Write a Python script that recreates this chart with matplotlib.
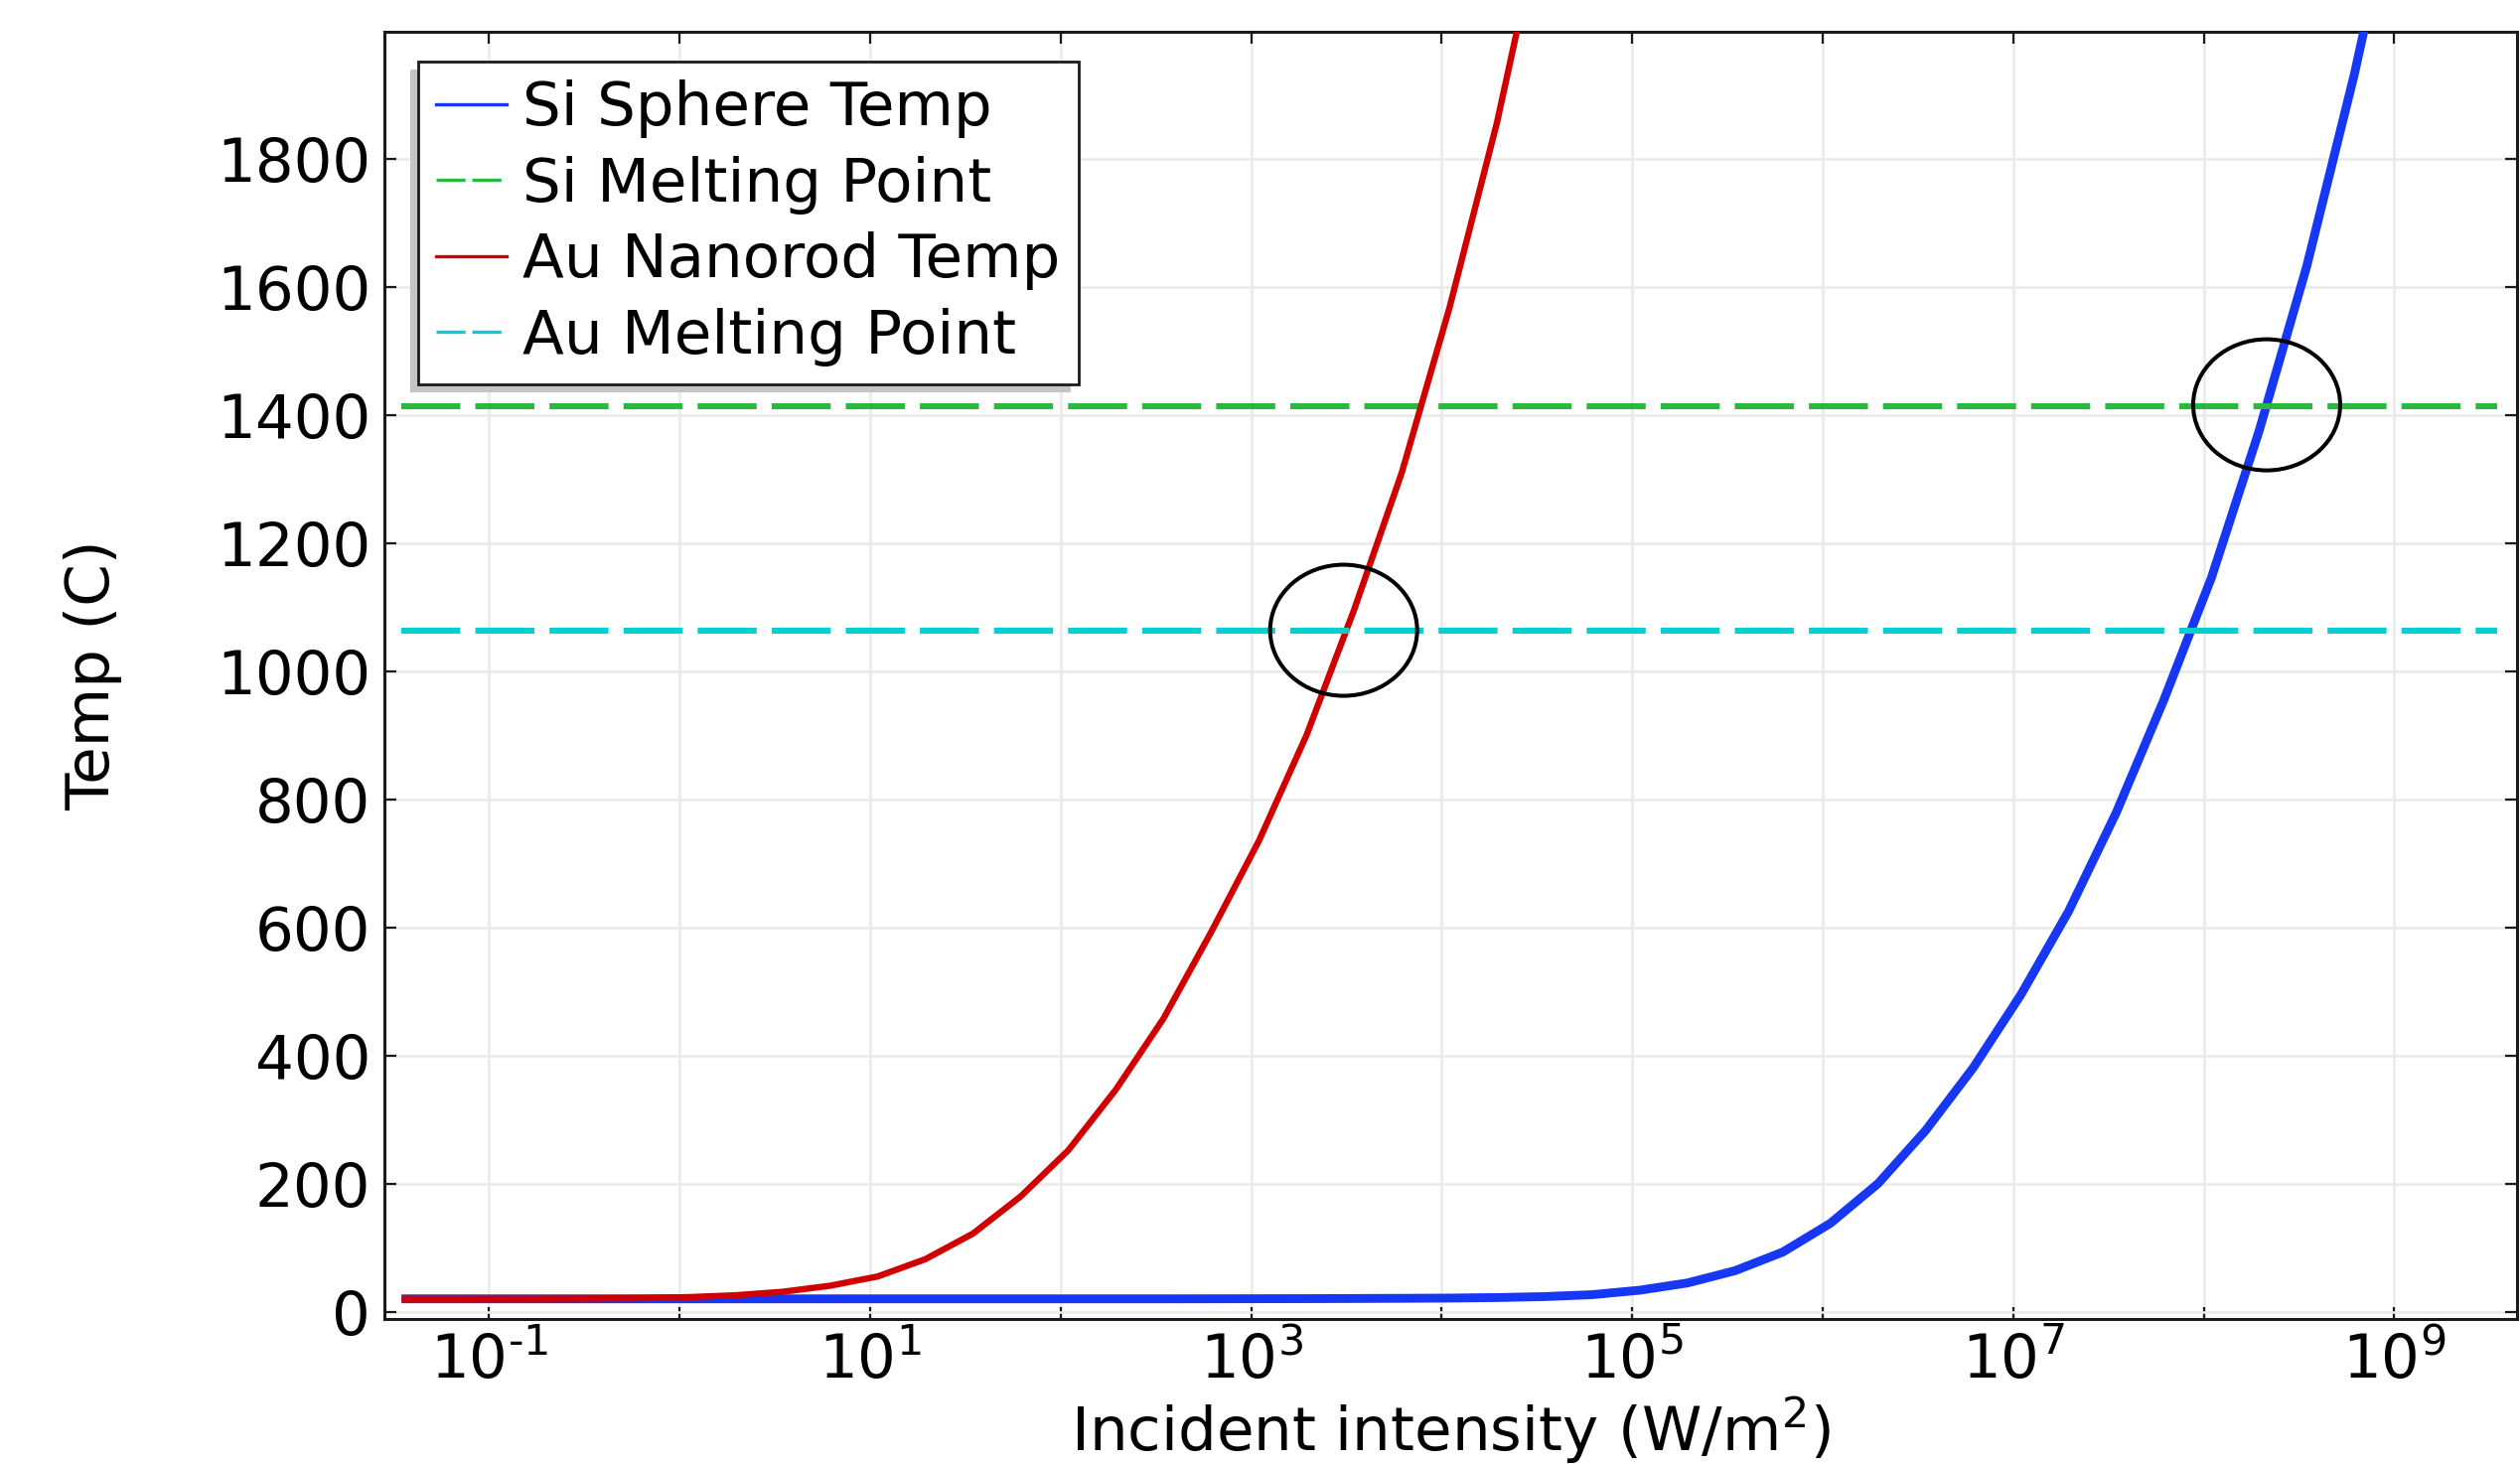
import numpy as np
import matplotlib
matplotlib.use("Agg")
import matplotlib.pyplot as plt
from matplotlib.lines import Line2D
from matplotlib.patches import Ellipse, Rectangle
from matplotlib.transforms import IdentityTransform
from matplotlib.ticker import FixedLocator, FuncFormatter, NullLocator

plt.rcParams['font.family'] = ['DejaVu Sans']
plt.rcParams['mathtext.fontset'] = 'dejavusans'
plt.rcParams['lines.scale_dashes'] = False

# ---------------- data ----------------
# log10 of incident intensity (W/m^2) of the sweep points
log_intensity = [-1.46, -1.21, -0.96, -0.71, -0.46, -0.21, 0.04, 0.29, 0.54, 0.79,
                 1.04, 1.29, 1.54, 1.79, 2.04, 2.29, 2.54, 2.79, 3.04, 3.29,
                 3.54, 3.79, 4.04, 4.29, 4.54, 4.79, 5.04, 5.29, 5.54, 5.79,
                 6.04, 6.29, 6.54, 6.79, 7.04, 7.29, 7.54, 7.79, 8.04, 8.29,
                 8.54, 8.79, 9.04, 9.29, 9.54]

si_sphere_temp = [20.0, 20.0, 20.0, 20.0, 20.0, 20.0, 20.0, 20.0, 20.0, 20.0,
                  20.0, 20.0, 20.0, 20.0, 20.0, 20.0, 20.0, 20.1, 20.2, 20.3,
                  20.5, 20.8, 21.2, 22.0, 23.5, 26.5, 33.5, 44.8, 64.0, 93.0,
                  138.0, 200.0, 283.0, 381.0, 495.0, 625.0, 779.0, 955.0, 1146.0, 1375.0,
                  1632.0, 1932.0, 2270.0]

au_nanorod_temp = [20.0, 20.0, 20.1, 20.2, 20.5, 21.2, 22.6, 25.5, 31.0, 40.5,
                   55.0, 82.0, 122.0, 180.0, 252.0, 347.0, 458.0, 593.0, 735.0, 900.0,
                   1096.0, 1310.0, 1567.0, 1857.0, 2198.0]

si_melting_point = 1414.0
au_melting_point = 1064.0

y_ticks = [0, 200, 400, 600, 800, 1000, 1200, 1400, 1600, 1800]
x_tick_exponents = [-1, 0, 1, 2, 3, 4, 5, 6, 7, 8, 9]

series_labels = ["Si Sphere Temp", "Si Melting Point", "Au Nanorod Temp", "Au Melting Point"]

# annotation circles (centre in data coordinates)
circle_log_x = [3.485, 8.33]
circle_y = [1064.0, 1416.0]

# ---------------- styling ----------------
BLUE = "#1638f4"
GREEN = "#2cb83d"
RED = "#d00000"
CYAN = "#08cfcf"
FS = 44

W, H = 2537, 1474
fig = plt.figure(figsize=(W / 100, H / 100), dpi=100)
ax = fig.add_axes([387 / W, 1 - 1327.7 / H, (2534 - 387) / W, (1327.7 - 31.7) / H])

x = [10 ** v for v in log_intensity]
x_si = x[:len(si_sphere_temp)]
x_au = x[:len(au_nanorod_temp)]
x_full = [x[0], x[-1]]

dash = (42.8, 10.9)
ax.plot(x_si, si_sphere_temp, color=BLUE, lw=6.4, solid_capstyle='butt', zorder=3)
ax.plot(x_full, [si_melting_point] * 2, color=GREEN, lw=4.4, dashes=dash, zorder=3)
ax.plot(x_au, au_nanorod_temp, color=RED, lw=4.6, solid_capstyle='butt', zorder=3)
ax.plot(x_full, [au_melting_point] * 2, color=CYAN, lw=4.4, dashes=dash, zorder=3)

ax.set_xscale('log')
ax.set_xlim(10 ** -1.55, 10 ** 9.644)
ax.set_ylim(-11, 1999)

ax.xaxis.set_major_locator(FixedLocator([10.0 ** e for e in x_tick_exponents]))
ax.xaxis.set_minor_locator(NullLocator())


def fmt(v, pos):
    e = int(round(np.log10(v)))
    if e % 2 == 0:
        return ""
    s = str(e).replace("-", "\u2010")
    return r"$\mathdefault{10^{%s}}$" % s


ax.xaxis.set_major_formatter(FuncFormatter(fmt))
ax.yaxis.set_major_locator(FixedLocator(y_ticks))

ax.tick_params(which='both', direction='in', length=8.6, width=1.6, top=True, right=True,
               labelsize=FS, pad=10, color='#1a1a1a')
ax.grid(True, color='#ebebeb', lw=1.9)
ax.set_axisbelow(True)
for s in ax.spines.values():
    s.set_linewidth(2.2)
    s.set_color('#1a1a1a')

ax.set_xlabel(r"Incident intensity (W/m$^{2}$)", fontsize=FS, labelpad=2)
ax.set_ylabel("Temp (C)", fontsize=FS, labelpad=68)

handles = [
    Line2D([], [], color=BLUE, lw=2.4),
    Line2D([], [], color=GREEN, lw=2.4, dashes=(21, 5)),
    Line2D([], [], color=RED, lw=2.4),
    Line2D([], [], color=CYAN, lw=2.4, dashes=(21, 5)),
]
leg = ax.legend(handles, series_labels, loc='upper left',
                bbox_to_anchor=((421 - 387) / (2534 - 387), 1 - (62 - 31.7) / (1327.7 - 31.7)),
                borderaxespad=0, fontsize=FS, frameon=True, fancybox=False, shadow=False,
                framealpha=1.0, facecolor='white',
                handlelength=1.15, handletextpad=0.27, labelspacing=0.285, borderpad=0.3)
leg.get_frame().set_edgecolor('#1a1a1a')
leg.get_frame().set_linewidth(2.0)
leg.set_zorder(6)

# ellipses
tr = ax.transScale + ax.transLimits
for lx, cy in zip(circle_log_x, circle_y):
    ex, ey = tr.transform((10 ** lx, cy))
    ax.add_patch(Ellipse((ex, ey), 148 / (2534 - 387), 132 / (1327.7 - 31.7),
                         transform=ax.transAxes, fill=False, edgecolor='black', lw=2.9, zorder=7))

# legend shadow (offset down-left)
fig.canvas.draw()
bb = leg.get_window_extent()
shadow = Rectangle((bb.x0 - 8, bb.y0 - 8), bb.width, bb.height, transform=IdentityTransform(),
                   facecolor='#c4c4c4', edgecolor='none', zorder=5.5, clip_on=False)
ax.add_artist(shadow)

fig.savefig("out.png", dpi=100, facecolor='white')
